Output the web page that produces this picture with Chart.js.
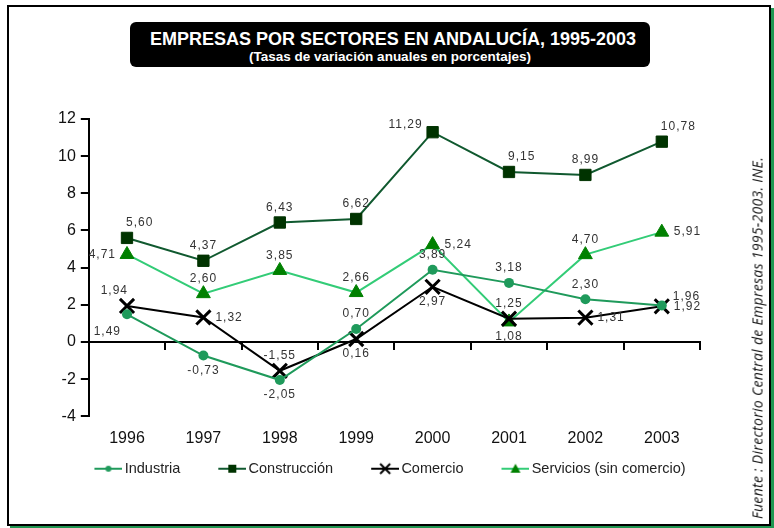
<!DOCTYPE html>
<html>
<head>
<meta charset="utf-8">
<script src="https://cdn.jsdelivr.net/npm/chart.js@4"></script>
<style>
    html, body { margin: 0; padding: 0; background: #fff; }
    #wrap { position: relative; width: 774px; height: 528px; overflow: hidden; }
    #frame {
        position: absolute; left: 7px; top: 5px; width: 764px; height: 521px;
        box-sizing: border-box; border: 2px solid #000;
        box-shadow: 3px 3px 0 0 #1e9650;
    }
    #chart { position: absolute; left: 0; top: 0; }
    #title {
        position: absolute; left: 130px; top: 22px; width: 520px; height: 45px;
        background: #000; border-radius: 6px; color: #fff; text-align: center;
        font-family: "Liberation Sans", Arial, sans-serif; font-weight: bold;
    }
    #title .t1 { font-size: 18px; line-height: 20px; margin-top: 7px; padding-left: 6px; }
    #title .t2 { font-size: 13.5px; line-height: 15px; }
    #fuente {
        position: absolute; left: 757px; top: 338px; white-space: nowrap;
        transform: translate(-50%, -50%) rotate(-90deg);
        font-family: "Open Sans", "DejaVu Sans", sans-serif; font-style: italic;
        font-size: 14px; letter-spacing: 0.3px; color: #111;
    }
</style>
</head>
<body>
<div id="wrap">
    <div id="frame"></div>
    <canvas id="chart" width="774" height="528"></canvas>
    <div id="title">
        <div class="t1">EMPRESAS POR SECTORES EN ANDALUCÍA, 1995-2003</div>
        <div class="t2">(Tasas de variación anuales en porcentajes)</div>
    </div>
    <div id="fuente">Fuente : Directorio Central de Empresas 1995-2003. INE.</div>
</div>
<script>
const years = ["1996", "1997", "1998", "1999", "2000", "2001", "2002", "2003"];
const industria = [1.49, -0.73, -2.05, 0.70, 3.89, 3.18, 2.30, 1.96];
const construccion = [5.60, 4.37, 6.43, 6.62, 11.29, 9.15, 8.99, 10.78];
const comercio = [1.94, 1.32, -1.55, 0.16, 2.97, 1.25, 1.31, 1.92];
const servicios = [4.71, 2.60, 3.85, 2.66, 5.24, 1.08, 4.70, 5.91];
const yTicks = [-4, -2, 0, 2, 4, 6, 8, 10, 12];

// donde va cada etiqueta respecto a su punto
const posIndustria = ["sw", "s", "s", "n", "n", "n", "n", "en"];
const posConstruccion = ["ne", "n", "n", "n", "wn", "ne", "n", "ne"];
const posComercio = ["nw", "e", "n", "s", "s", "n", "e", "e"];
const posServicios = ["w", "n", "n", "n", "e", "s", "n", "e"];

const FONT = '"Liberation Sans", Arial, sans-serif';

// icono de leyenda: tramo de linea con el marcador en medio,
// con hueco a la izquierda para separar las entradas
function legendIcon(lineColor, pointColor, style) {
    const c = document.createElement("canvas");
    c.width = 60;
    c.height = 16;
    const g = c.getContext("2d");
    g.strokeStyle = lineColor;
    g.lineWidth = 2;
    g.beginPath();
    g.moveTo(32, 8);
    g.lineTo(60, 8);
    g.stroke();
    g.fillStyle = pointColor;
    g.strokeStyle = pointColor;
    if (style === "circle") {
        g.beginPath(); g.arc(46, 8, 3, 0, Math.PI * 2); g.fill();
    } else if (style === "rect") {
        g.fillRect(42, 4, 8, 8);
    } else if (style === "triangle") {
        g.beginPath(); g.moveTo(46, 3); g.lineTo(51, 12); g.lineTo(41, 12); g.closePath(); g.fill();
    } else {
        g.lineWidth = 2;
        g.beginPath(); g.moveTo(41, 3); g.lineTo(51, 13); g.moveTo(51, 3); g.lineTo(41, 13); g.stroke();
    }
    return c;
}

const valueLabels = {
    id: "valueLabels",
    afterDatasetsDraw(chart) {
        const ctx = chart.ctx;
        ctx.save();
        ctx.font = "12px " + FONT;
        ctx.fillStyle = "#333";
        ctx.textBaseline = "middle";
        ctx.letterSpacing = "1px";
        chart.data.datasets.forEach((ds, i) => {
            chart.getDatasetMeta(i).data.forEach((pt, j) => {
                const pos = ds.labelPos[j];
                const text = ds.data[j].toFixed(2).replace(".", ",");
                let x = pt.x, y = pt.y;
                ctx.textAlign = "center";
                if (pos === "n") y -= 15;
                else if (pos === "s") y += 15;
                else if (pos === "e") { x += 12; ctx.textAlign = "left"; }
                else if (pos === "w") { x -= 11; ctx.textAlign = "right"; }
                else if (pos === "en") { x += 11; y -= 9; ctx.textAlign = "left"; }
                else if (pos === "wn") { x -= 10; y -= 8; ctx.textAlign = "right"; }
                else if (pos === "ne") { x -= 1; y -= 15; ctx.textAlign = "left"; }
                else if (pos === "nw") { x += 1; y -= 15; ctx.textAlign = "right"; }
                else if (pos === "sw") { x -= 6; y += 17; ctx.textAlign = "right"; }
                ctx.fillText(text, x, y);
            });
        });
        ctx.restore();
    }
};

const icons = [
    legendIcon("#1f9a5b", "#1f9a5b", "circle"),
    legendIcon("#10592f", "#003300", "rect"),
    legendIcon("#000000", "#000000", "cross"),
    legendIcon("#33cc77", "#008000", "triangle")
];

new Chart(document.getElementById("chart"), {
    type: "line",
    data: {
        labels: years,
        datasets: [
            {
                label: "Industria",
                data: industria,
                labelPos: posIndustria,
                borderColor: "#1f9a5b",
                backgroundColor: "#1f9a5b",
                borderWidth: 2,
                pointStyle: "circle",
                pointRadius: 5,
                pointBorderWidth: 0
            },
            {
                label: "Construcción",
                data: construccion,
                labelPos: posConstruccion,
                borderColor: "#10592f",
                backgroundColor: "#003300",
                pointBorderColor: "#003300",
                borderWidth: 2,
                pointStyle: "rect",
                pointRadius: 8,
                pointBorderWidth: 1
            },
            {
                label: "Comercio",
                data: comercio,
                labelPos: posComercio,
                borderColor: "#000000",
                backgroundColor: "#000000",
                borderWidth: 2,
                pointStyle: "crossRot",
                pointRadius: 10,
                pointBorderWidth: 3
            },
            {
                label: "Servicios (sin comercio)",
                data: servicios,
                labelPos: posServicios,
                borderColor: "#33cc77",
                backgroundColor: "#008000",
                pointBorderColor: "#008000",
                borderWidth: 2,
                pointStyle: "triangle",
                pointRadius: 8,
                pointBorderWidth: 1
            }
        ]
    },
    options: {
        responsive: false,
        animation: false,
        devicePixelRatio: 1,
        layout: { padding: { left: 53, right: 74, top: 119, bottom: 42 } },
        scales: {
            x: {
                type: "category",
                position: "bottom",
                offset: true,
                grid: { display: false, drawTicks: false },
                border: { display: false },
                ticks: { font: { family: FONT, size: 16 }, color: "#111", padding: 13 },
                afterFit: scale => { scale.height -= 11; }
            },
            x2: {
                type: "category",
                labels: years,
                position: { y: 0 },
                offset: true,
                grid: { offset: true, drawOnChartArea: false, tickLength: 7, color: "#000", lineWidth: 2 },
                border: { color: "#000", width: 2 },
                ticks: { display: false }
            },
            y: {
                min: yTicks[0],
                max: yTicks[yTicks.length - 1],
                afterBuildTicks: scale => { scale.ticks = yTicks.map(v => ({ value: v })); },
                grid: { drawOnChartArea: false, tickLength: 8, color: "#000", lineWidth: 2 },
                border: { color: "#000", width: 2 },
                ticks: { font: { family: FONT, size: 16 }, color: "#111", padding: 5 }
            }
        },
        plugins: {
            legend: {
                position: "bottom",
                labels: {
                    font: { family: FONT, size: 14.5 },
                    color: "#222",
                    usePointStyle: true,
                    pointStyleWidth: 50,
                    padding: 11,
                    generateLabels: chart =>
                        Chart.defaults.plugins.legend.labels.generateLabels(chart)
                            .map((item, i) => ({ ...item, pointStyle: icons[i] }))
                }
            },
            tooltip: { enabled: false }
        }
    },
    plugins: [valueLabels]
});
</script>
</body>
</html>
